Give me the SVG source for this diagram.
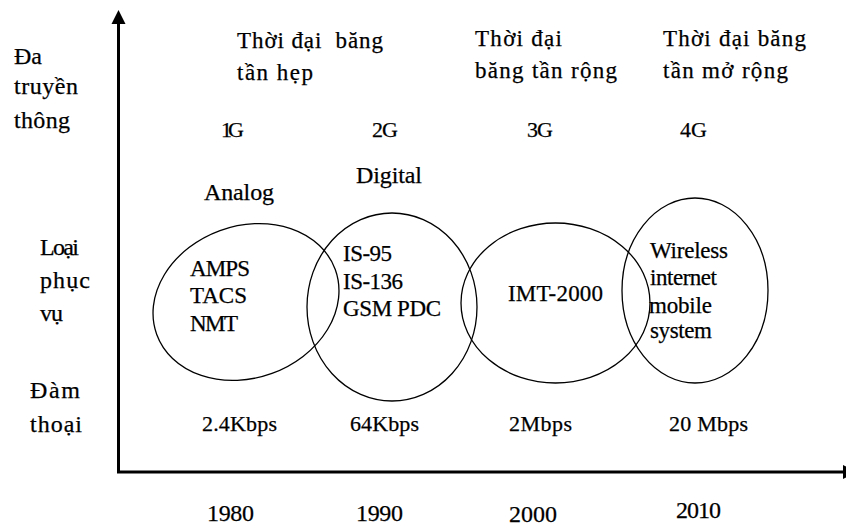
<svg xmlns="http://www.w3.org/2000/svg" width="846" height="526" viewBox="0 0 846 526">
  <style>
    text { font-family: "Liberation Serif", "Times New Roman", serif; fill: #000; stroke: #000; stroke-width: 0.25; }
    .lbl { font-size: 24px; }
    .ttl { font-size: 23px; }
    .big { font-size: 24px; }
    .gen { font-size: 22px; }
    .itm { font-size: 23px; }
    .rate { font-size: 22px; }
    .yr { font-size: 24px; }
    .ax { stroke: #000; stroke-width: 3; fill: none; }
    .ring { fill: none; stroke: #000; stroke-width: 1.3; }
  </style>
  <rect width="846" height="526" fill="#fff"/>

  <!-- axes -->
  <g id="connectors">
    <line class="ax" x1="118.5" y1="22" x2="118.5" y2="472"/>
    <line class="ax" x1="117" y1="472" x2="846" y2="472"/>
    <polygon points="118.5,10 111.5,24 125.5,24" fill="#000"/>
    <polygon points="843,465 843,479 857,472" fill="#000"/>
  </g>

  <!-- vertical axis categories -->
  <g id="axis-labels">
    <text class="lbl" x="14" y="64" textLength="28">Đa</text>
    <text class="lbl" x="14" y="94" textLength="64">truyền</text>
    <text class="lbl" x="14" y="128" textLength="56">thông</text>
    <text class="lbl" x="40" y="255" textLength="39">Loại</text>
    <text class="lbl" x="40" y="288" textLength="50">phục</text>
    <text class="lbl" x="40" y="321" textLength="23">vụ</text>
    <text class="lbl" x="30" y="398" textLength="50">Đàm</text>
    <text class="lbl" x="30" y="432" textLength="52">thoại</text>
  </g>

  <!-- eras -->
  <g id="era-narrow">
    <text class="ttl" x="237" y="48" textLength="146" xml:space="preserve">Thời đại  băng</text>
    <text class="ttl" x="237" y="80" textLength="76">tần hẹp</text>
  </g>
  <g id="era-wide">
    <text class="ttl" x="475" y="46" textLength="87">Thời đại</text>
    <text class="ttl" x="475" y="78" textLength="142">băng tần rộng</text>
  </g>
  <g id="era-extended">
    <text class="ttl" x="663" y="46" textLength="143">Thời đại băng</text>
    <text class="ttl" x="663" y="78" textLength="125">tần mở rộng</text>
  </g>

  <!-- generations -->
  <g id="gen-1g">
    <text class="gen" x="221" y="137" textLength="23">1G</text>
    <text class="big" x="204" y="200" textLength="70">Analog</text>
    <ellipse class="ring" cx="246" cy="302" rx="95" ry="76" transform="rotate(-20 246 302)"/>
    <text class="itm" x="190" y="276" textLength="60">AMPS</text>
    <text class="itm" x="190" y="303" textLength="57">TACS</text>
    <text class="itm" x="190" y="331" textLength="48">NMT</text>
    <text class="rate" x="202" y="431" textLength="75">2.4Kbps</text>
    <text class="yr" x="207" y="521" textLength="47">1980</text>
  </g>

  <g id="gen-2g">
    <text class="gen" x="372" y="137" textLength="26">2G</text>
    <text class="big" x="356" y="183" textLength="66">Digital</text>
    <ellipse class="ring" cx="392" cy="307" rx="85" ry="94"/>
    <text class="itm" x="343" y="261" textLength="49">IS-95</text>
    <text class="itm" x="343" y="289" textLength="60">IS-136</text>
    <text class="itm" x="343" y="316" textLength="98">GSM PDC</text>
    <text class="rate" x="350" y="431" textLength="69">64Kbps</text>
    <text class="yr" x="356" y="521" textLength="47">1990</text>
  </g>

  <g id="gen-3g">
    <text class="gen" x="527" y="137" textLength="26">3G</text>
    <ellipse class="ring" cx="555.5" cy="303" rx="94.5" ry="80"/>
    <text class="itm" x="508" y="301" textLength="95">IMT-2000</text>
    <text class="rate" x="509" y="431" textLength="63">2Mbps</text>
    <text class="yr" x="509" y="522" textLength="48">2000</text>
  </g>

  <g id="gen-4g">
    <text class="gen" x="680" y="137" textLength="27">4G</text>
    <ellipse class="ring" cx="695" cy="290.5" rx="73" ry="92.5"/>
    <text class="itm" x="650" y="258" textLength="78">Wireless</text>
    <text class="itm" x="650" y="285" textLength="67">internet</text>
    <text class="itm" x="649" y="313" textLength="63">mobile</text>
    <text class="itm" x="650" y="338" textLength="62">system</text>
    <text class="rate" x="669" y="431" textLength="79">20 Mbps</text>
    <text class="yr" x="676" y="518" textLength="45">2010</text>
  </g>
</svg>
